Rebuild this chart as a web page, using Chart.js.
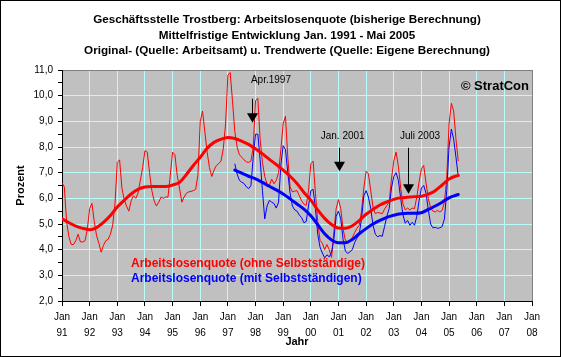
<!DOCTYPE html>
<html>
<head>
<meta charset="utf-8">
<script src="https://cdn.jsdelivr.net/npm/chart.js@4/dist/chart.umd.min.js"></script>
<style>
html,body{margin:0;padding:0;background:#fff;}
#wrap{position:relative;width:561px;height:357px;}
</style>
</head>
<body>
<div id="wrap"><canvas id="c"></canvas></div>
<script>
// ---------- data ----------
const titleLines = [
  'Geschäftsstelle Trostberg: Arbeitslosenquote (bisherige Berechnung)',
  'Mittelfristige Entwicklung Jan. 1991 - Mai 2005',
  'Original- (Quelle: Arbeitsamt) u. Trendwerte (Quelle: Eigene Berechnung)'
];
const yearLabels = ['91','92','93','94','95','96','97','98','99','00','01','02','03','04','05','06','07','08'];
const seriesNames = ['Arbeitslosenquote (ohne Selbstständige)', 'Arbeitslosenquote (mit Selbstständigen)'];

// monthly values, month index 0 = Jan 1991
const redStart = 0;
const redOrig = [
  6.6, 6.45, 5.1, 4.5, 4.2, 4.2, 4.35, 4.6, 4.3, 4.3, 4.35, 4.8,      // 1991
  5.6, 5.8, 5.1, 4.55, 4.25, 3.9, 4.17, 4.35, 4.4, 4.6, 4.95, 5.8,    // 1992
  7.4, 7.5, 6.4, 5.95, 5.7, 5.5, 5.9, 6.1, 6.0, 6.2, 6.7, 7.2,        // 1993
  7.86, 7.8, 7.0, 6.3, 5.9, 5.7, 5.85, 6.05, 6.0, 6.05, 6.05, 6.9,   // 1994
  7.8, 7.7, 6.9, 6.4, 5.85, 6.05, 6.2, 6.25, 6.27, 6.3, 6.35, 6.9,   // 1995
  9.0, 9.4, 8.6, 7.8, 7.2, 6.85, 7.1, 7.28, 7.35, 7.45, 7.93, 8.9,   // 1996
  10.8, 10.9, 9.8, 8.6, 8.0, 7.7, 7.6, 7.5, 7.42, 7.4, 7.45, 8.0,    // 1997
  9.8, 9.9, 8.3, 7.4, 6.85, 6.55, 6.5, 6.75, 6.57, 6.7, 7.0, 7.9,    // 1998
  8.9, 9.2, 7.6, 6.45, 6.25, 6.28, 6.3, 6.1, 5.9, 5.78, 5.72, 6.3,   // 1999
  7.35, 7.45, 6.2, 5.1, 4.36, 4.25, 4.0, 4.2, 4.0, 3.7, 4.7, 5.6,    // 2000
  5.95, 5.6, 4.8, 4.36, 4.3, 4.37, 4.47, 4.66, 4.83, 4.95, 5.5, 6.4, // 2001
  7.06, 6.95, 6.3, 5.65, 5.4, 5.45, 5.43, 5.4, 5.58, 5.72, 5.85, 6.75, // 2002
  7.45, 7.8, 7.25, 6.4, 5.78, 5.55, 5.62, 5.55, 5.62, 5.6, 6.05, 6.65, // 2003
  7.15, 7.28, 6.6, 6.0, 5.62, 5.5, 5.47, 5.53, 5.47, 5.53, 5.85, 6.8,  // 2004
  8.9, 9.7, 9.4, 8.3, 7.45                                              // 2005 (Jan-Mai)
];
const blueStart = 75; // Apr 1997
const blueOrig = [
  7.35, 6.95, 6.7, 6.63, 6.58, 6.45, 6.38, 6.5, 7.6,                 // Apr-Dez 1997
  8.5, 8.5, 7.5, 6.3, 5.2, 5.7, 5.92, 5.85, 5.8, 5.62, 5.85, 7.3,    // 1998
  8.05, 7.9, 7.0, 6.2, 5.7, 5.55, 5.5, 5.35, 5.25, 5.05, 5.1, 5.7,   // 1999
  6.3, 6.35, 5.6, 4.6, 4.1, 3.87, 3.68, 3.8, 3.72, 3.9, 4.4, 5.3,    // 2000
  5.5, 5.2, 4.4, 3.95, 3.85, 3.92, 4.0, 4.27, 4.45, 4.6, 5.2, 6.1,   // 2001
  6.3, 6.05, 5.6, 4.95, 4.6, 4.5, 4.55, 4.52, 4.9, 5.3, 5.6, 6.4,    // 2002
  6.85, 7.0, 6.7, 6.0, 5.35, 5.03, 5.14, 4.95, 5.07, 4.95, 5.3, 5.92, // 2003
  6.4, 6.5, 6.2, 5.55, 5.0, 4.85, 4.87, 4.83, 4.85, 4.9, 5.2, 6.3,   // 2004
  8.0, 8.7, 8.3, 7.6, 6.85                                            // 2005
];
const redTrendMonths = [0,3,6,9,12,15,18,21,24,27,30,33,36,39,42,45,48,51,54,57,60,63,66,69,72,75,78,81,84,87,90,93,96,99,102,105,108,111,114,117,120,123,126,129,132,135,138,141,144,147,150,153,156,159,162,165,168,171,172];
const redTrend = [5.2,5.05,4.92,4.83,4.78,4.86,5.06,5.33,5.66,5.92,6.17,6.35,6.44,6.46,6.46,6.46,6.52,6.62,6.93,7.28,7.6,7.95,8.18,8.3,8.37,8.33,8.23,8.1,7.93,7.73,7.52,7.32,7.1,6.86,6.58,6.23,5.93,5.55,5.22,4.98,4.84,4.83,4.93,5.13,5.38,5.57,5.74,5.86,5.96,6.02,6.04,6.06,6.08,6.16,6.3,6.52,6.75,6.87,6.89];
const blueTrendMonths = [75,78,81,84,87,90,93,96,99,102,105,108,111,114,117,120,123,126,129,132,135,138,141,144,147,150,153,156,159,162,165,168,171,172];
const blueTrend = [7.1,6.98,6.86,6.76,6.62,6.47,6.33,6.17,5.98,5.78,5.58,5.32,4.97,4.62,4.38,4.27,4.27,4.4,4.62,4.82,5.0,5.14,5.26,5.34,5.4,5.42,5.42,5.44,5.57,5.7,5.85,6.02,6.12,6.15];

// annotations (arrow month, arrow tail value, arrow tip value, text left month, text value)
const annoLabels = ['Apr.1997', 'Jan. 2001', 'Juli 2003'];
const annoMonth = [82.55, 120.4, 150.3];
const annoTail = [9.88, 7.97, 7.97];
const annoTip = [8.94, 7.06, 6.18];
const annoTextMonth = [82.0, 112.3, 146.7];
const annoTextValue = [10.59, 8.41, 8.41];
const copyright = '© StratCon';

// ---------- drawing ----------
const FONT = '"Liberation Sans", Arial, Helvetica, sans-serif';
const GRID = '#B8FCFC';
const RED = '#FF0000', BLUE = '#0000FF';

const xy = (start, vals) => vals.map((v, i) => ({x: start + i, y: v}));
const xyM = (months, vals) => months.map((m, i) => ({x: m, y: vals[i]}));

const decor = {
  id: 'decor',
  beforeDraw(chart) {
    const {ctx, chartArea: a} = chart;
    ctx.save();
    ctx.fillStyle = '#FFFFFF';
    ctx.fillRect(0, 0, chart.width, chart.height);
    ctx.fillStyle = '#C0C0C0';
    ctx.fillRect(a.left, a.top, a.right - a.left, a.bottom - a.top);
    ctx.restore();
  },
  afterDatasetsDraw(chart) {
    const {ctx, chartArea: a, scales: {x, y}} = chart;
    ctx.save();
    // legend texts
    ctx.font = 'bold 12px ' + FONT;
    ctx.textBaseline = 'middle';
    ctx.textAlign = 'left';
    ctx.fillStyle = RED;
    ctx.fillText(seriesNames[0], 131, 264);
    ctx.fillStyle = BLUE;
    ctx.fillText(seriesNames[1], 131, 279);
    // copyright
    ctx.fillStyle = '#000';
    ctx.textAlign = 'right';
    ctx.font = 'bold 13px ' + FONT;
    ctx.fillText(copyright, a.right - 3, 86);
    // annotations
    ctx.font = '10px ' + FONT;
    ctx.textAlign = 'left';
    for (let i = 0; i < annoLabels.length; i++) {
      const px = Math.round(x.getPixelForValue(annoMonth[i])) + 0.5;
      const yt = y.getPixelForValue(annoTail[i]);
      const yp = y.getPixelForValue(annoTip[i]);
      const headH = 9.5, headW = 5.5;
      ctx.strokeStyle = '#000';
      ctx.lineWidth = 1;
      ctx.beginPath();
      ctx.moveTo(px, yt);
      ctx.lineTo(px, yp - headH + 1);
      ctx.stroke();
      ctx.fillStyle = '#000';
      ctx.beginPath();
      ctx.moveTo(px - headW, yp - headH);
      ctx.lineTo(px + headW, yp - headH);
      ctx.lineTo(px, yp);
      ctx.closePath();
      ctx.fill();
      ctx.fillText(annoLabels[i], x.getPixelForValue(annoTextMonth[i]), y.getPixelForValue(annoTextValue[i]));
    }
    ctx.restore();
  },
  afterDraw(chart) {
    const {ctx} = chart;
    ctx.save();
    ctx.fillStyle = '#000';
    ctx.font = 'bold 11.7px ' + FONT;
    ctx.textAlign = 'center';
    ctx.textBaseline = 'middle';
    const ty = [20, 35.5, 51];
    titleLines.forEach((t, i) => ctx.fillText(t, 287, ty[i]));
    ctx.strokeStyle = '#000';
    ctx.lineWidth = 1;
    ctx.strokeRect(0.5, 0.5, chart.width - 1, chart.height - 1);
    ctx.restore();
  }
};

new Chart(document.getElementById('c'), {
  type: 'line',
  data: {
    datasets: [
      {label: 'Trend ohne', data: xyM(redTrendMonths, redTrend), borderColor: RED, borderWidth: 3, pointRadius: 0, cubicInterpolationMode: 'monotone', borderJoinStyle: 'round', borderCapStyle: 'round'},
      {label: 'Trend mit', data: xyM(blueTrendMonths, blueTrend), borderColor: BLUE, borderWidth: 3, pointRadius: 0, cubicInterpolationMode: 'monotone', borderJoinStyle: 'round', borderCapStyle: 'round'},
      {label: seriesNames[1], data: xy(blueStart, blueOrig), borderColor: BLUE, borderWidth: 1, pointRadius: 0, tension: 0, borderJoinStyle: 'round'},
      {label: seriesNames[0], data: xy(redStart, redOrig), borderColor: RED, borderWidth: 1, pointRadius: 0, tension: 0, borderJoinStyle: 'round'}
    ]
  },
  options: {
    responsive: true,
    maintainAspectRatio: false,
    animation: false,
    devicePixelRatio: 1,
    events: [],
    layout: {padding: {top: 70, right: 29, bottom: 0, left: 0}},
    plugins: {legend: {display: false}, tooltip: {enabled: false}, title: {display: false}},
    scales: {
      x: {
        type: 'linear', min: 0, max: 204,
        afterFit: s => { s.height = 56; },
        ticks: {
          stepSize: 12, autoSkip: false, maxRotation: 0, minRotation: 0, padding: 3, color: '#000',
          font: {family: FONT, size: 10, lineHeight: '16px'},
          callback: (v, i) => ['Jan', yearLabels[i]]
        },
        grid: {
          color: c => (c.tick && c.tick.value === 204) ? '#808080' : ((c.tick && c.tick.value > 0) ? GRID : 'rgba(0,0,0,0)'),
          tickColor: '#000', tickLength: 5, lineWidth: 1
        },
        border: {color: '#000', width: 1},
        title: {display: true, text: 'Jahr', color: '#000', font: {family: FONT, size: 11, weight: 'bold'}, padding: {top: 0, bottom: 8}}
      },
      y: {
        type: 'linear', min: 2, max: 11,
        afterFit: s => { s.width = 62; },
        ticks: {
          stepSize: 0.5, autoSkip: false, padding: 5, color: '#000',
          font: {family: FONT, size: 10},
          callback: v => Number.isInteger(v) ? v.toFixed(1).replace('.', ',') : ''
        },
        grid: {
          color: c => {
            if (!c.tick) return 'rgba(0,0,0,0)';
            const v = c.tick.value;
            if (v === 11) return '#808080';
            if (Number.isInteger(v) && v > 2) return GRID;
            return 'rgba(0,0,0,0)';
          },
          tickColor: '#000', tickLength: 4, lineWidth: 1
        },
        border: {color: '#000', width: 1},
        title: {display: true, text: 'Prozent', color: '#000', font: {family: FONT, size: 11, weight: 'bold'}, padding: {top: 14, bottom: 0}}
      }
    }
  },
  plugins: [decor]
});
</script>
</body>
</html>
